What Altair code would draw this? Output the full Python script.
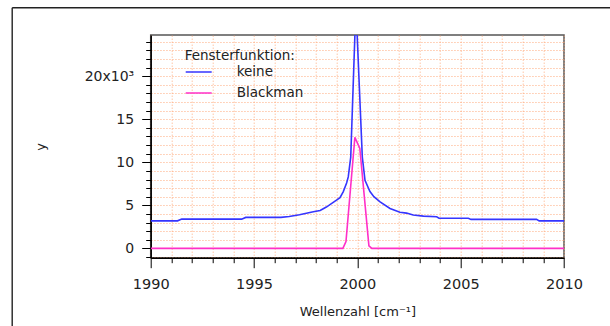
import altair as alt
import pandas as pd

# ---- data ----
keine_x = [1990.0, 1991.3, 1991.5, 1994.4, 1994.6, 1996.3, 1996.7, 1997.2, 1997.87, 1998.2,
           1998.5, 1998.99, 1999.16, 1999.32, 1999.48, 1999.56, 1999.68, 1999.93, 2000.24,
           2000.37, 2000.61, 2000.8, 2001.1, 2001.58, 2002.06, 2002.38, 2002.7, 2003.2,
           2003.84, 2003.95, 2005.37, 2005.5, 2008.67, 2008.8, 2010.0]
keine_y = [3200, 3200, 3400, 3400, 3600, 3600, 3700, 3900, 4250, 4400,
           4800, 5600, 5900, 6600, 7600, 8300, 10600, 28200, 10600,
           7900, 6600, 6000, 5400, 4640, 4200, 4100, 3870, 3750,
           3670, 3500, 3500, 3370, 3370, 3200, 3200]

blackman_x = [1990.0, 1999.3, 1999.45, 1999.88, 2000.12, 2000.56, 2000.7, 2010.0]
blackman_y = [0, 0, 800, 12900, 11600, 300, 0, 0]

series_names = ["keine", "Blackman"]
series_colors = ["#3535FF", "#FF30C8"]

x_tick_values = list(range(1990, 2011))
y_tick_values = list(range(-1000, 25000, 1000))

df = pd.DataFrame(
    {"x": keine_x + blackman_x,
     "y": keine_y + blackman_y,
     "s": ["keine"] * len(keine_x) + ["Blackman"] * len(blackman_x)}
)

FONT = "DejaVu Sans"
W, H = 413.3, 222.7

x_axis = alt.Axis(
    values=x_tick_values, format="d",
    labelExpr="datum.value % 5 === 0 ? datum.label : ''",
    tickSize={"condition": {"test": "datum.value % 5 === 0", "value": 10}, "value": 5},
    tickColor="#000", tickWidth=1, domainColor="#000", domainWidth=1.5,
    labelFont=FONT, labelFontSize=14.5, labelColor="#222", labelPadding=10,
    labelFlush=False, labelOverlap=False,
    grid=True, gridColor="#FFA878", gridOpacity=0.65, gridDash=[1.5, 1.5], gridWidth=1,
    title="Wellenzahl [cm⁻¹]", titleFont=FONT, titleFontSize=13, titleFontWeight="normal",
    titleColor="#222", titleX=W / 2, titleY=58, titleBaseline="alphabetic", titleAlign="center",
)

y_axis = alt.Axis(
    values=y_tick_values,
    labelExpr="datum.value === 20000 ? '20x10³' : ((datum.value >= 0 && datum.value % 5000 === 0) ? '' + (datum.value / 1000) : '')",
    tickSize={"condition": {"test": "datum.value % 5000 === 0", "value": 9}, "value": 5},
    tickColor="#000", tickWidth=1, domainColor="#000", domainWidth=1.5,
    labelFont=FONT, labelFontSize=14, labelColor="#222", labelPadding=8,
    labelFlush=False, labelOverlap=False,
    grid=True, gridColor="#FFA878", gridOpacity=0.65, gridDash=[1.5, 1.5], gridWidth=1,
    title="y", titleFont=FONT, titleFontSize=13, titleFontWeight="normal", titleColor="#222",
    titleAngle=-90, titleX=-110, titleY=H / 2, titleAlign="center", titleBaseline="middle",
)

lines = alt.Chart(df).mark_line(clip=True, strokeWidth=1.6).encode(
    x=alt.X("x:Q", scale=alt.Scale(domain=[1990, 2010], nice=False, zero=False), axis=x_axis),
    y=alt.Y("y:Q", scale=alt.Scale(domain=[-1080, 24780], nice=False, zero=False), axis=y_axis),
    color=alt.Color(
        "s:N",
        scale=alt.Scale(domain=series_names, range=series_colors),
        sort=series_names,
        legend=alt.Legend(
            title="Fensterfunktion:", orient="none", legendX=34, legendY=13.5,
            symbolType="stroke", symbolSize=676, symbolStrokeWidth=1.5,
            labelOffset=24, padding=0, rowPadding=-11.4, titlePadding=-4,
            titleFont=FONT, titleFontSize=13.5, titleFontWeight="normal", titleColor="#222",
            labelFont=FONT, labelFontSize=13.5, labelColor="#222",
        ),
    ),
    detail="s:N",
)

one = alt.Data(values=[{"a": 1}])
frame_left = alt.Chart(one).mark_rule(color="#222", strokeWidth=1.4).encode(
    x=alt.value(-138.5), y=alt.value(-27.3), y2=alt.value(400)
)
frame_top = alt.Chart(one).mark_rule(color="#222", strokeWidth=1.4).encode(
    x=alt.value(-138.5), x2=alt.value(600), y=alt.value(-27.3)
)

chart = alt.layer(lines, frame_left, frame_top).properties(
    width=W, height=H,
    autosize=alt.AutoSizeParams(type="none"),
    padding={"left": 150.7, "top": 35, "right": 46, "bottom": 68.3},
    background="white",
).configure_view(stroke="#555", strokeWidth=1.5)

chart.save("out.html", embed_options={"renderer": "svg", "actions": False})
